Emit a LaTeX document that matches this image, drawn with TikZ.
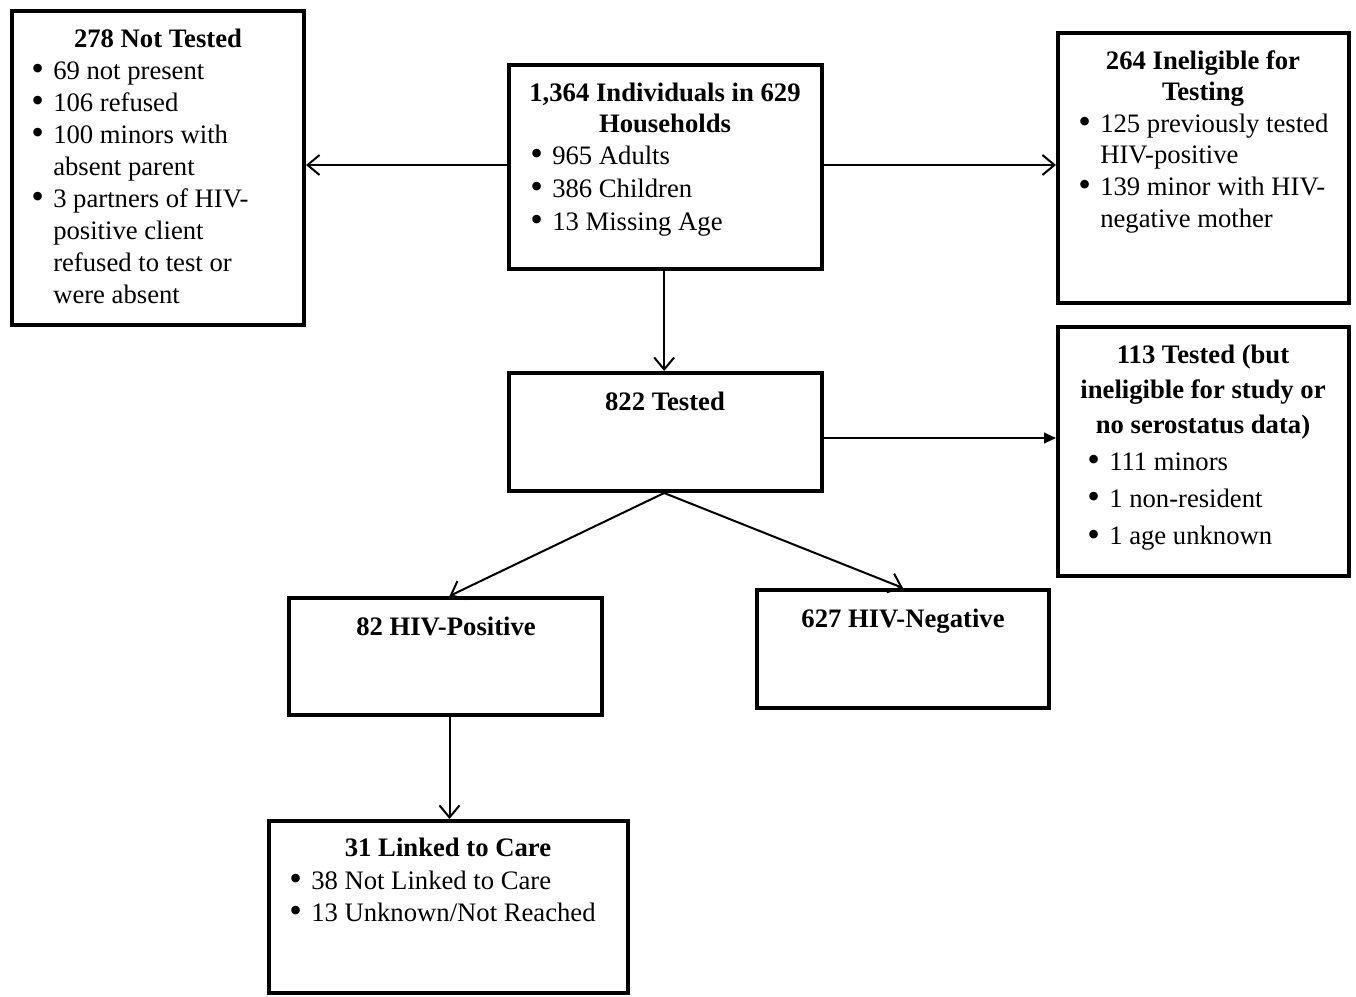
\documentclass[tikz,border=0pt]{standalone}
\usepackage{fontspec}
\usepackage{graphicx}
\setmainfont{Liberation Serif}
\usetikzlibrary{arrows.meta}
\newcommand\bul{\makebox[15pt][l]{\hspace*{-1.5pt}\raisebox{-1.2pt}{\scalebox{1.35}{\textbullet}}}}
\newcommand\ind{\hspace*{15pt}}
\newcommand\tblock[3]{{\fontsize{20}{#1}\selectfont\begin{tabular}[t]{@{}#2@{}}#3\end{tabular}}}
\begin{document}
\begin{tikzpicture}[x=0.75pt,y=-0.75pt,
  box/.style={draw,line width=3pt,inner sep=0pt},
  ttl/.style={anchor=base,inner sep=0pt,font=\bfseries},
  lst/.style={anchor=base west,inner sep=0pt},
  arr/.style={line width=1.5pt,-{Straight Barb[length=9pt,width=15pt]}},
  arrf/.style={line width=1.5pt,-{Triangle[length=9pt,width=8pt]}}]
\useasboundingbox (0,0) rectangle (1356,996);
% boxes
\node[box,minimum width=219pt,minimum height=235.5pt] (b1) at (158,168) {};
\node[box,minimum width=234.75pt,minimum height=153pt] (b2) at (665.5,167) {};
\node[box,minimum width=218.25pt,minimum height=202.5pt] (b3) at (1203.5,168) {};
\node[box,minimum width=234.75pt,minimum height=88.5pt] (b4) at (665.5,432) {};
\node[box,minimum width=218.25pt,minimum height=186.75pt] (b5) at (1203.5,451.5) {};
\node[box,minimum width=234.75pt,minimum height=87.75pt] (b6) at (445.5,656.5) {};
\node[box,minimum width=219pt,minimum height=88.5pt] (b7) at (903,649) {};
\node[box,minimum width=269.25pt,minimum height=129pt] (b8) at (448.5,907) {};
% titles
\node[ttl] (t1) at (158,47) {\tblock{24pt}{c}{278 Not Tested}};
\node[ttl] (t2) at (665,101) {\tblock{23.25pt}{c}{1,364 Individuals in 629\\Households}};
\node[ttl] (t3) at (1203,69) {\tblock{23.25pt}{c}{264 Ineligible for\\Testing}};
\node[ttl] (t4) at (665,410) {\tblock{24pt}{c}{822 Tested}};
\node[ttl] (t5) at (1203,363) {\tblock{26.25pt}{c}{113 Tested (but\\ineligible for study or\\no serostatus data)}};
\node[ttl] (t6) at (446,635) {\tblock{24pt}{c}{82 HIV-Positive}};
\node[ttl] (t7) at (903,627) {\tblock{24pt}{c}{627 HIV-Negative}};
\node[ttl] (t8) at (448,856) {\tblock{24pt}{c}{31 Linked to Care}};
% lists
\node[lst] (l1) at (33,79) {\tblock{24pt}{l}{\bul 69 not present\\\bul 106 refused\\\bul 100 minors with\\\ind absent parent\\\bul 3 partners of HIV-\\\ind positive client\\\ind refused to test or\\\ind were absent}};
\node[lst] (l2) at (532,164) {\tblock{24.75pt}{l}{\bul 965 Adults\\\bul 386 Children\\\bul 13 Missing Age}};
\node[lst] (l3) at (1080,132) {\tblock{23.75pt}{l}{\bul 125 previously tested\\\ind HIV-positive\\\bul 139 minor with HIV-\\\ind negative mother}};
\node[lst] (l5) at (1089,470) {\tblock{28pt}{l}{\bul 111 minors\\\bul 1 non-resident\\\bul 1 age unknown}};
\node[lst] (l8) at (291,889) {\tblock{24pt}{l}{\bul 38 Not Linked to Care\\\bul 13 Unknown/Not Reached}};
% connectors
\draw[arr] ([yshift=1.5pt]b2.west) -- ([yshift=1.5pt]b2.west -| b1.east);
\draw[arr] ([yshift=1.5pt]b2.east) -- ([yshift=1.5pt]b2.east -| b3.west);
\draw[arr] ([xshift=-1pt]b2.south) -- ([xshift=-1pt]b4.north);
\draw[arrf] ([yshift=-4.5pt]b4.east) -- ([yshift=-4.5pt]b4.east -| b5.west);
\draw[arr] ([xshift=-1pt]b4.south) -- ([xshift=3pt]b6.north);
\draw[arr] ([xshift=-1pt]b4.south) -- (b7.north);
\draw[arr] ([xshift=3pt]b6.south) -- ([xshift=3pt]b6.south |- b8.north);
\end{tikzpicture}
\end{document}
